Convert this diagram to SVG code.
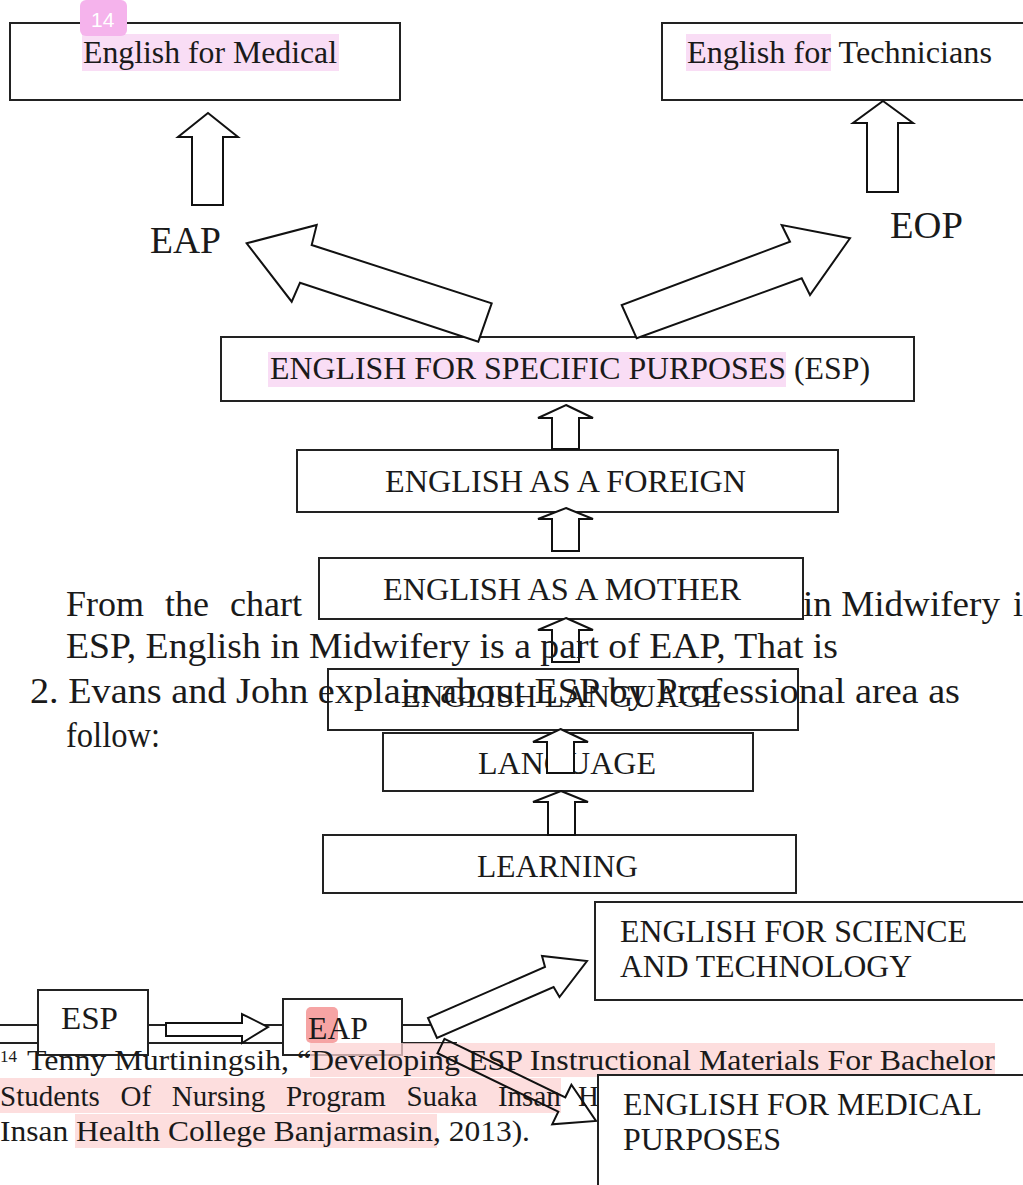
<svg xmlns="http://www.w3.org/2000/svg" width="1023" height="1185" viewBox="0 0 1023 1185">
<style>
.box{fill:#fff;stroke:#222;stroke-width:2}
.arr{fill:#fff;stroke:#111;stroke-width:2;stroke-linejoin:miter}
.arrn{fill:none;stroke:#111;stroke-width:2}
.t{font-family:"Liberation Serif","Times New Roman",serif;fill:#1a1a1a}
.b32{font-size:32px}
.body{font-size:36px}
.fn{font-size:29px}
.hlm{fill:#f7d4f2;opacity:0.8}
.hlr{fill:#fcd3d3;opacity:0.75}
.ln{stroke:#222;stroke-width:2}
</style>
<rect width="1023" height="1185" fill="#fff"/>

<!-- body text behind the MOTHER box -->
<text class="t body" x="66" y="616" word-spacing="12">From the chart</text>
<text class="t body" x="803" y="616" textLength="197" lengthAdjust="spacingAndGlyphs">in Midwifery</text>
<text class="t body" x="1013" y="616">i</text>

<g id="node-medical">
<rect class="box" x="10" y="23" width="390" height="77"/>
<rect class="hlm" x="82" y="34" width="257" height="37"/>
<text class="t" x="83" y="63" font-size="31" textLength="254" lengthAdjust="spacingAndGlyphs">English for Medical</text>
</g>
<g id="badge-14">
<rect x="80" y="0" width="47" height="36" rx="6" fill="#f5b3ec"/>
<text x="91" y="27" font-family="Liberation Sans, Arial, sans-serif" font-size="21" fill="#fff">14</text>
</g>
<g id="node-technicians">
<rect class="box" x="662" y="23" width="370" height="77"/>
<rect class="hlm" x="686" y="34" width="145" height="37"/>
<text class="t" x="687" y="63" font-size="31" textLength="305" lengthAdjust="spacingAndGlyphs">English for Technicians</text>
</g>
<g id="label-eap">
<text class="t" x="150" y="253" font-size="37" textLength="71" lengthAdjust="spacingAndGlyphs">EAP</text>
</g>
<g id="label-eop">
<text class="t" x="890" y="238" font-size="37" textLength="73" lengthAdjust="spacingAndGlyphs">EOP</text>
</g>
<g id="node-esp">
<rect class="box" x="221" y="337" width="693" height="64"/>
<rect class="hlm" x="268" y="352" width="518" height="35"/>
<text class="t b32" x="270" y="379" textLength="600" lengthAdjust="spacingAndGlyphs">ENGLISH FOR SPECIFIC PURPOSES (ESP)</text>
</g>
<g id="node-foreign">
<rect class="box" x="297" y="450" width="541" height="62"/>
<text class="t b32" x="385" y="492" textLength="361" lengthAdjust="spacingAndGlyphs">ENGLISH AS A FOREIGN</text>
</g>
<g id="node-mother">
<rect class="box" x="319" y="558" width="484" height="61"/>
<text class="t b32" x="383" y="600" textLength="358" lengthAdjust="spacingAndGlyphs">ENGLISH AS A MOTHER</text>
</g>
<g id="node-english-language">
<rect class="box" x="328" y="669" width="470" height="61"/>
<text class="t b32" x="401" y="707" textLength="320" lengthAdjust="spacingAndGlyphs">ENGLISH LANGUAGE</text>
</g>
<g id="node-language">
<rect class="box" x="383" y="733" width="370" height="58"/>
<text class="t b32" x="478" y="774" textLength="178" lengthAdjust="spacingAndGlyphs">LANGUAGE</text>
</g>
<g id="node-learning">
<rect class="box" x="323" y="835" width="473" height="58"/>
<text class="t b32" x="477" y="877" textLength="161" lengthAdjust="spacingAndGlyphs">LEARNING</text>
</g>
<g id="node-science">
<rect class="box" x="595" y="902" width="437" height="98"/>
<text class="t b32" x="620" y="942" textLength="347" lengthAdjust="spacingAndGlyphs">ENGLISH FOR SCIENCE</text>
<text class="t b32" x="620" y="977" textLength="292" lengthAdjust="spacingAndGlyphs">AND TECHNOLOGY</text>
</g>

<!-- bottom horizontal double lines -->
<g id="rules">
<line class="ln" x1="0" y1="1025" x2="38" y2="1025"/>
<line class="ln" x1="0" y1="1043" x2="38" y2="1043"/>
<line class="ln" x1="148" y1="1025" x2="283" y2="1025"/>
<line class="ln" x1="148" y1="1043" x2="283" y2="1043"/>
<line class="ln" x1="402" y1="1025" x2="432" y2="1025"/>
<line class="ln" x1="402" y1="1043" x2="457" y2="1043"/>
</g>

<g id="node-esp-small">
<rect class="box" x="38" y="990" width="110" height="65"/>
<text class="t b32" x="61" y="1029" textLength="57" lengthAdjust="spacingAndGlyphs">ESP</text>
</g>
<g id="node-eap-small">
<rect class="box" x="283" y="999" width="119" height="56"/>
<rect x="306" y="1007" width="32" height="36" rx="5" fill="#f6a4a4"/>
<text class="t b32" x="308" y="1039" textLength="60" lengthAdjust="spacingAndGlyphs">EAP</text>
</g>

<g id="connectors">
<polygon class="arr" points="208,113 238,137 223,137 223,205 192,205 192,137 178,137"/>
<polygon class="arr" points="883,101 913,123 898,123 898,192 867,192 867,123 853,123"/>
<polygon class="arr" points="246.7,243.3 316.7,225 311.7,245 491.7,303.3 478.3,341.7 300,282.7 291.7,301.7"/>
<polygon class="arr" points="636.7,338.3 621.7,305 790,241.7 781.7,225 850,238.3 810,295 801.7,278.3"/>
<polygon class="arr" points="566,405 593,418 579,418 579,449 552,449 552,418 538,418"/>
<polygon class="arr" points="566,508 593,519 579,519 579,551 552,551 552,519 538,519"/>
<polygon class="arr" points="566,618 593,630 579,630 579,662 552,662 552,630 538,630"/>
<polygon class="arr" points="560.5,729 588,742 574,742 574,773 547,773 547,742 533,742"/>
<polygon class="arr" points="561,791 588,802 575,802 575,835 548,835 548,802 533,802"/>
<polygon class="arr" points="166,1023 242,1023 242,1014 268,1027 242,1043 242,1036 166,1036"/>
<polygon class="arr" points="437,1038 428,1018 545,967 542,956 587,961 559.5,997 553.6,987"/>
</g>

<!-- body text drawn over the chart -->
<text class="t body" x="66" y="658" textLength="772" lengthAdjust="spacingAndGlyphs">ESP, English in Midwifery is a part of EAP, That is</text>
<text class="t body" x="30" y="703" textLength="930" lengthAdjust="spacingAndGlyphs">2. Evans and John explain about ESP by Professional area as</text>
<text class="t body" x="66" y="747" textLength="94" lengthAdjust="spacingAndGlyphs">follow:</text>

<!-- footnote -->
<g id="footnote">
<rect class="hlr" x="310" y="1043" width="685" height="34"/>
<rect class="hlr" x="0" y="1078" width="561" height="35"/>
<rect class="hlr" x="75" y="1114" width="362" height="34"/>
<text class="t" x="0" y="1062" font-size="17">14</text>
<text class="t fn" x="27" y="1070" textLength="968" lengthAdjust="spacingAndGlyphs">Tenny Murtiningsih, “Developing ESP Instructional Materials For Bachelor</text>
<text class="t fn" x="0" y="1106" word-spacing="13.4">Students Of Nursing Program Suaka Insan</text>
<text class="t fn" x="578" y="1106">H</text>
<text class="t fn" x="0" y="1141" textLength="530" lengthAdjust="spacingAndGlyphs">Insan Health College Banjarmasin, 2013).</text>
</g>

<g id="connector-eap-medical">
<polygon class="arrn" points="444.5,1038.8 565.3,1097.3 571.4,1084.7 596,1121 552.2,1124.3 558.3,1111.7 437.5,1053.2"/>
</g>

<g id="node-medical-purposes">
<rect class="box" x="598" y="1075" width="434" height="130"/>
<text class="t b32" x="623" y="1115" textLength="359" lengthAdjust="spacingAndGlyphs">ENGLISH FOR MEDICAL</text>
<text class="t b32" x="623" y="1150" textLength="158" lengthAdjust="spacingAndGlyphs">PURPOSES</text>
</g>
</svg>
